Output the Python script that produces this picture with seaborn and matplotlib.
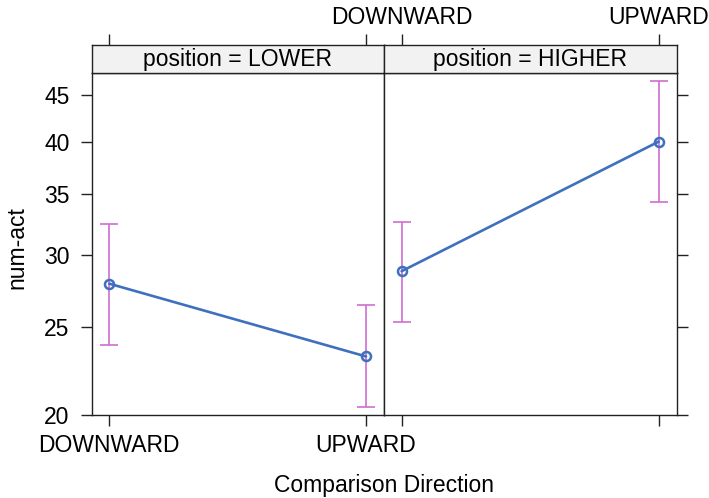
import numpy as np
import pandas as pd
import matplotlib
matplotlib.use("Agg")
import matplotlib.pyplot as plt
import seaborn as sns
from matplotlib.ticker import FixedLocator, NullLocator, FixedFormatter

sns.set_theme(style="white")
plt.rcParams['font.family'] = ['Liberation Sans', 'DejaVu Sans']
plt.rcParams['text.color'] = 'black'

# ---- data ----
directions = ["DOWNWARD", "UPWARD"]
positions = ["LOWER", "HIGHER"]
fit_lower = [27.9, 23.2]
lo_lower = [23.9, 20.4]
hi_lower = [32.5, 26.4]
fit_higher = [28.8, 40.0]
lo_higher = [25.3, 34.3]
hi_higher = [32.6, 46.6]
y_ticks = [20, 25, 30, 35, 40, 45]

df = pd.DataFrame({
    "direction": directions * 2,
    "position": [positions[0]] * 2 + [positions[1]] * 2,
    "fit": fit_lower + fit_higher,
    "lower": lo_lower + lo_higher,
    "upper": hi_lower + hi_higher,
})
df["xpos"] = df["direction"].map({d: i for i, d in enumerate(directions)})

line_col = "#3f70be"
err_col = "#d06ed0"
axis_col = "#222222"
fs = 16.5

W, H = 709, 498
fig = plt.figure(figsize=(W / 100, H / 100), dpi=100)

def fx(px):
    return px / W

def fy(py):
    return 1 - py / H

panel_top, panel_bot = 73, 415
strip_top = 45.3
lefts = [91.7, 384.0]
rights = [384.0, 676.7]
xlim = (-0.0686, 1.0701)

for i, pos in enumerate(positions):
    ax = fig.add_axes([fx(lefts[i]), fy(panel_bot), fx(rights[i] - lefts[i]),
                       (panel_bot - panel_top) / H])
    sub = df[df["position"] == pos]
    ax.errorbar(sub["xpos"], sub["fit"],
                yerr=[sub["fit"] - sub["lower"], sub["upper"] - sub["fit"]],
                fmt="none", ecolor=err_col, elinewidth=1.2, capsize=6.8,
                capthick=1.2, zorder=2)
    sns.lineplot(data=sub, x="xpos", y="fit", ax=ax, color=line_col,
                 linewidth=1.9, marker="o", markersize=6.5,
                 markerfacecolor="none", markeredgecolor=line_col,
                 markeredgewidth=1.8, zorder=3)
    ax.set_yscale("log")
    ax.set_ylim(20, 47.6)
    ax.set_xlim(*xlim)
    ax.yaxis.set_major_locator(FixedLocator(y_ticks))
    ax.yaxis.set_minor_locator(NullLocator())
    ax.yaxis.set_major_formatter(FixedFormatter([str(t) for t in y_ticks]))
    ax.set_xticks([0, 1])
    ax.set_xticklabels(directions)
    ax.set_xlabel("")
    ax.set_ylabel("")
    for s in ax.spines.values():
        s.set_color(axis_col)
        s.set_linewidth(1.0)
    ax.tick_params(axis="both", which="major", direction="out", length=8,
                   width=1.0, color=axis_col, labelsize=fs, labelcolor="black")
    if i == 0:
        ax.tick_params(axis="y", left=True, right=False, labelleft=True,
                       labelright=False, pad=8)
        ax.tick_params(axis="x", bottom=True, top=False, labelbottom=True,
                       labeltop=False, pad=6)
    else:
        ax.tick_params(axis="y", left=False, right=True, labelleft=False,
                       labelright=False)
        ax.tick_params(axis="x", bottom=True, top=False, labelbottom=False,
                       labeltop=False, pad=6)
    ax.grid(False)

    # strip with top ticks
    sax = fig.add_axes([fx(lefts[i]), fy(panel_top), fx(rights[i] - lefts[i]),
                        (panel_top - strip_top) / H])
    sax.set_facecolor("#f2f2f2")
    sax.set_xlim(*xlim)
    sax.set_xticks([0, 1])
    sax.set_xticklabels(directions)
    sax.set_yticks([])
    for s in sax.spines.values():
        s.set_color(axis_col)
        s.set_linewidth(1.0)
    sax.tick_params(axis="x", bottom=False, labelbottom=False, top=True,
                    labeltop=(i == 1), direction="out", length=8, width=1.0,
                    color=axis_col, labelsize=fs, labelcolor="black", pad=4)
    sax.text(0.5, 0.47, f"position = {pos}", ha="center", va="center",
             fontsize=fs, color="black", transform=sax.transAxes)

fig.text(fx(17), fy(248), "num-act", rotation=90, ha="center", va="center",
         fontsize=fs, color="black")
fig.text(fx(384), fy(485), "Comparison Direction", ha="center", va="center",
         fontsize=fs, color="black")

fig.savefig("out.png", dpi=100)
